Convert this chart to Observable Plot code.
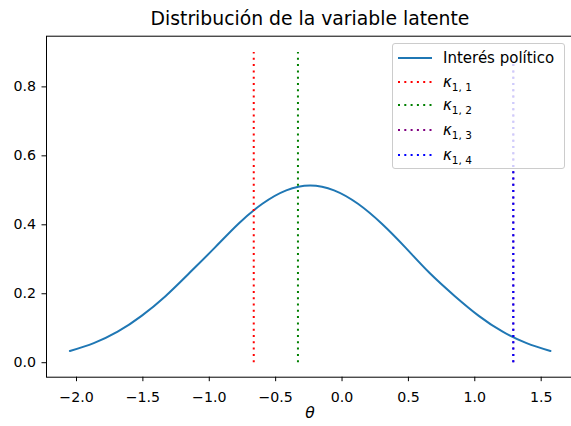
<!DOCTYPE html>
<html><head><meta charset="utf-8">
<script src="https://cdn.jsdelivr.net/npm/d3@7"></script>
<script src="https://cdn.jsdelivr.net/npm/@observablehq/plot@0.6"></script>
<style>
body{margin:0;background:#fff;font-family:"DejaVu Sans",sans-serif;color:#000;}
#wrap{position:relative;width:571px;height:426px;overflow:hidden;}
#chart{position:absolute;left:0;top:0;}
#title{position:absolute;left:0;width:620px;top:8px;text-align:center;font-size:18.8px;line-height:22px;white-space:nowrap;}
#xlabel{position:absolute;left:290px;width:40px;top:404px;text-align:center;font-size:15.5px;font-style:italic;line-height:18px;}
#legend{position:absolute;left:392px;top:43px;width:171px;height:124px;border:1px solid #cccccc;border-radius:3px;background:rgba(255,255,255,0.8);}
.entry{position:absolute;left:0;height:20px;font-size:15px;line-height:20px;white-space:nowrap;}
.entry svg{position:absolute;left:4px;top:0;}
.entry span.t{position:absolute;left:50px;top:0;}
sub{font-size:70%;vertical-align:-0.35em;line-height:0;}
</style></head><body>
<div id="wrap">
<div id="chart"></div>
<div id="title">Distribución de la variable latente</div>
<div id="xlabel">θ</div>
<div id="legend"></div>
</div>
<script>
const theta = [-2.05, -1.87, -1.69, -1.51, -1.33, -1.15, -0.96, -0.78, -0.60, -0.42, -0.24, -0.06, 0.12, 0.30, 0.48, 0.66, 0.85, 1.03, 1.21, 1.39, 1.57];
const density = [0.034, 0.057, 0.090, 0.136, 0.193, 0.260, 0.333, 0.403, 0.461, 0.500, 0.514, 0.500, 0.461, 0.403, 0.333, 0.260, 0.193, 0.136, 0.090, 0.057, 0.034];
const seriesName = "Interés político";
const kappaSubs = ["1, 1", "1, 2", "1, 3", "1, 4"];
const kappaValues = [-0.665, -0.332, 1.29, 1.29];
const kappaTops = [0.9, 0.9, 0.87, 0.87];
const kappaColors = ["red", "green", "purple", "blue"];
const xTicks = [-2, -1.5, -1, -0.5, 0, 0.5, 1, 1.5];
const yTicks = [0, 0.2, 0.4, 0.6, 0.8];

const curveData = theta.map((t, i) => ({theta: t, density: density[i]}));
const kappa = kappaValues.map((v, i) => ({x: v, top: kappaTops[i], color: kappaColors[i]}));

const plot = Plot.plot({
  width: 571, height: 426,
  marginLeft: 46, marginRight: -3, marginTop: 35.7, marginBottom: 49.3,
  style: {fontFamily: "DejaVu Sans", fontSize: "14.2px", color: "black", background: "transparent"},
  x: {domain: [-2.226, 1.751]},
  y: {domain: [-0.042, 0.947]},
  marks: [
    Plot.line(curveData, {x: "theta", y: "density", stroke: "#1f77b4", strokeWidth: 2, curve: "natural"}),
    ...kappa.map(k => Plot.ruleX([k], {x: "x", y1: 0, y2: "top", stroke: k.color, strokeWidth: 2, strokeDasharray: "2,4.3"})),
    Plot.frame({stroke: "black", strokeWidth: 1}),
    Plot.axisX({ticks: xTicks, tickFormat: d3.format(".1f"), tickSize: 4.5, tickPadding: 10.4, label: null}),
    Plot.axisY({ticks: yTicks, tickFormat: d3.format(".1f"), tickSize: 4.5, tickPadding: 6, label: null})
  ]
});
document.getElementById("chart").appendChild(plot);

const legend = document.getElementById("legend");
const entryTops = [3.7, 27.7, 51, 76, 101];
function addEntry(i, svgLine, html) {
  const e = document.createElement("div");
  e.className = "entry";
  e.style.top = entryTops[i] + "px";
  e.innerHTML = `<svg width="36" height="20">${svgLine}</svg><span class="t">${html}</span>`;
  legend.appendChild(e);
}
addEntry(0, `<line x1="1" x2="35" y1="10" y2="10" stroke="#1f77b4" stroke-width="2"/>`, seriesName);
kappaSubs.forEach((s, i) => {
  addEntry(i + 1, `<line x1="1" x2="35" y1="10" y2="10" stroke="${kappaColors[i]}" stroke-width="2" stroke-dasharray="2,4.3"/>`,
    `<i>κ</i><sub>${s}</sub>`);
});
</script>
</body></html>
